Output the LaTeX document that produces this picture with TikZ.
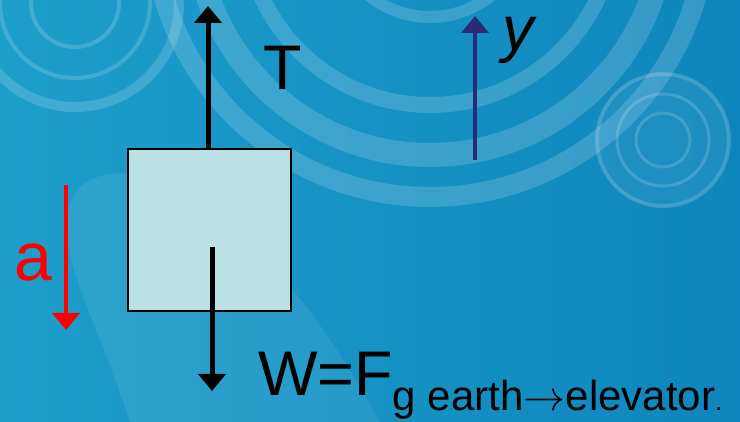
\documentclass[tikz,border=0pt]{standalone}
\usepackage{fix-cm}
\usepackage{fontspec}
\setmainfont{Liberation Sans}
\usetikzlibrary{arrows.meta,positioning}
\definecolor{bgleft}{RGB}{30,158,203}
\definecolor{bgright}{RGB}{14,134,189}
\definecolor{blockfill}{RGB}{188,225,228}
\definecolor{axisnavy}{RGB}{43,42,122}
\definecolor{accred}{RGB}{255,0,0}
\tikzset{ring/.style={draw=white,opacity=0.16},force/.style={-{Triangle[length=17pt,width=27pt]},line width=5pt},biglabel/.style={font=\fontsize{63}{70}\selectfont,inner sep=0pt}}

\begin{document}
\begin{tikzpicture}[x=1pt,y=-1pt]
\clip (0,0) rectangle (740,422);
\shade[left color=bgleft,right color=bgright] (0,0) rectangle (740,422);
% background rings
\fill[white,opacity=0.07] (66,230) .. controls (64,175) and (110,165) .. (160,178) .. controls (260,230) and (330,330) .. (380,422) -- (130,422) .. controls (100,330) and (70,280) .. (66,230);
\draw[ring,line width=4pt] (75,3) circle (44);
\draw[ring,line width=4pt] (75,3) circle (75);
\draw[ring,line width=10pt] (75,3) circle (104);
\draw[ring,line width=12pt] (430,-80) circle (97);
\draw[ring,line width=16pt] (430,-80) circle (185);
\draw[ring,line width=24pt] (430,-80) circle (235);
\draw[ring,line width=20pt] (430,-80) circle (277);
\fill[white,opacity=0.06] (663,140) circle (67);
\draw[ring,line width=3pt] (663,140) circle (27);
\draw[ring,line width=3pt] (663,140) circle (46);
\draw[ring,line width=4pt] (663,140) circle (66);
% block and forces
\node[draw,fill=blockfill,line width=1.2pt,minimum width=163pt,minimum height=162pt,inner sep=0pt] (mass) at (209.5,230) {};
\coordinate (Ttip) at (208,6);
\coordinate (Wtail) at (212,247);
\coordinate (Wtip) at (212,391);
\coordinate (ybot) at (475,160);
\coordinate (ytip) at (475,16);
\coordinate (atop) at (66,185);
\coordinate (atip) at (66,330);
\draw[force] (mass.north -| Ttip) -- (Ttip);
\draw[force] (Wtail) -- (Wtip);
\draw[force,axisnavy,line width=4.5pt] (ybot) -- (ytip);
\draw[force,accred,line width=4.5pt] (atop) -- (atip);
\node[biglabel,anchor=base west] (Tlabel) at (263,90) {T};
\node[biglabel,anchor=base west] (ylabel) at (502,51) {\itshape y};
\node[biglabel,anchor=base west,text=accred,font=\fontsize{68}{74}\selectfont] (alabel) at (14,281) {a};
\node[biglabel,anchor=base west] (Wlabel) at (258,396) {W=F\raisebox{-15pt}{\fontsize{42}{46}\selectfont g earth$\rightarrow$elevator\fontsize{26}{28}\selectfont.}};
\end{tikzpicture}
\end{document}
